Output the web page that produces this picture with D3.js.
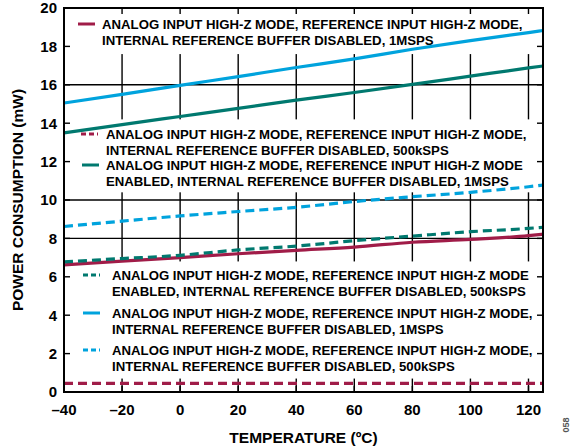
<!DOCTYPE html>
<html>
<head>
<meta charset="utf-8">
<script src="https://cdn.jsdelivr.net/npm/d3@7"></script>
<style>
  body { margin: 0; background: #fff; }
  text { font-family: "Liberation Sans", Arial, sans-serif; font-weight: bold; }
</style>
</head>
<body>
<svg id="chart"></svg>
<script>
var width = 572, height = 446
var margin = {top: 8, right: 29, bottom: 54, left: 64}

// temperatures (degC) where values were read
var temps = [-40, -20, 0, 20, 40, 60, 80, 100, 120, 125]

// power consumption (mW) per series
var refHiZ1M = [6.62, 6.82, 7.0, 7.2, 7.38, 7.55, 7.8, 7.95, 8.14, 8.22]
var refHiZ500k = [0.45, 0.45, 0.45, 0.45, 0.45, 0.45, 0.45, 0.45, 0.45, 0.45]
var refBuf1M = [13.5, 13.93, 14.35, 14.77, 15.2, 15.6, 16.02, 16.45, 16.88, 16.98]
var refBuf500k = [6.78, 6.95, 7.12, 7.4, 7.6, 7.88, 8.12, 8.35, 8.52, 8.58]
var intBuf1M = [15.05, 15.5, 15.97, 16.43, 16.9, 17.35, 17.85, 18.3, 18.72, 18.83]
var intBuf500k = [8.62, 8.9, 9.17, 9.4, 9.62, 9.92, 10.17, 10.4, 10.69, 10.78]

var xTicks = [-40, -20, 0, 20, 40, 60, 80, 100, 120]
var yTicks = [0, 2, 4, 6, 8, 10, 12, 14, 16, 18, 20]

var maroon = "#a01c48", teal = "#00796f", blue = "#00a3dd"

var series = [
    {name: ["ANALOG INPUT HIGH-Z MODE, REFERENCE INPUT HIGH-Z MODE,", "INTERNAL REFERENCE BUFFER DISABLED, 1MSPS"], values: refHiZ1M, color: maroon, dash: null},
    {name: ["ANALOG INPUT HIGH-Z MODE, REFERENCE INPUT HIGH-Z MODE,", "INTERNAL REFERENCE BUFFER DISABLED, 500kSPS"], values: refHiZ500k, color: maroon, dash: "9,5"},
    {name: ["ANALOG INPUT HIGH-Z MODE, REFERENCE INPUT HIGH-Z MODE", "ENABLED, INTERNAL REFERENCE BUFFER DISABLED, 1MSPS"], values: refBuf1M, color: teal, dash: null},
    {name: ["ANALOG INPUT HIGH-Z MODE, REFERENCE INPUT HIGH-Z MODE", "ENABLED, INTERNAL REFERENCE BUFFER DISABLED, 500kSPS"], values: refBuf500k, color: teal, dash: "9,5"},
    {name: ["ANALOG INPUT HIGH-Z MODE, REFERENCE INPUT HIGH-Z MODE,", "INTERNAL REFERENCE BUFFER DISABLED, 1MSPS"], values: intBuf1M, color: blue, dash: null},
    {name: ["ANALOG INPUT HIGH-Z MODE, REFERENCE INPUT HIGH-Z MODE,", "INTERNAL REFERENCE BUFFER DISABLED, 500kSPS"], values: intBuf500k, color: blue, dash: "9,5"}
]

// legend placement: swatch start, text start, first line y
var legendPos = [
    {sx: 78, tx: 102, y: 24},
    {sx: 81, tx: 106, y: 134},
    {sx: 82, tx: 106, y: 165},
    {sx: 83, tx: 112, y: 275},
    {sx: 83, tx: 112, y: 313},
    {sx: 83, tx: 112, y: 350}
]
// white bands that hide the grid behind the legend text (in mW)
var bands = [[20, 17.6], [14.2, 10.4], [6.8, 0.7]]

var svg = d3.select("#chart")
    .attr("width", width)
    .attr("height", height)

var x = d3.scaleLinear().domain([-40, 125]).range([margin.left, width - margin.right])
var y = d3.scaleLinear().domain([0, 20]).range([height - margin.bottom, margin.top])

var g = svg.append("g")

// grid
g.selectAll(".vgrid").data(xTicks.slice(1)).enter().append("line")
    .attr("x1", d => x(d)).attr("x2", d => x(d))
    .attr("y1", y(20)).attr("y2", y(0))
    .attr("stroke", "#000").attr("stroke-width", 1.4)
g.selectAll(".hgrid").data(yTicks.slice(1, -1)).enter().append("line")
    .attr("x1", x(-40)).attr("x2", x(125))
    .attr("y1", d => y(d)).attr("y2", d => y(d))
    .attr("stroke", "#000").attr("stroke-width", 1.4)

// blank bands
g.selectAll(".band").data(bands).enter().append("rect")
    .attr("x", x(-40)).attr("width", x(125) - x(-40))
    .attr("y", d => y(d[0])).attr("height", d => y(d[1]) - y(d[0]))
    .attr("fill", "#fff")

// inward ticks on all sides
var tl = 6
g.selectAll(".tl").data(yTicks).enter().append("line")
    .attr("x1", x(-40)).attr("x2", x(-40) + tl)
    .attr("y1", d => y(d)).attr("y2", d => y(d))
    .attr("stroke", "#000").attr("stroke-width", 1.4)
g.selectAll(".tr").data(yTicks).enter().append("line")
    .attr("x1", x(125)).attr("x2", x(125) - tl)
    .attr("y1", d => y(d)).attr("y2", d => y(d))
    .attr("stroke", "#000").attr("stroke-width", 1.4)
g.selectAll(".tt").data(xTicks).enter().append("line")
    .attr("x1", d => x(d)).attr("x2", d => x(d))
    .attr("y1", y(20)).attr("y2", y(20) + tl)
    .attr("stroke", "#000").attr("stroke-width", 1.4)
g.selectAll(".tb").data(xTicks).enter().append("line")
    .attr("x1", d => x(d)).attr("x2", d => x(d))
    .attr("y1", y(0)).attr("y2", y(0) - tl)
    .attr("stroke", "#000").attr("stroke-width", 1.4)

// data lines
var line = d3.line()
    .x((d, i) => x(temps[i]))
    .y(d => y(d))
    .curve(d3.curveMonotoneX)

g.selectAll(".series").data(series).enter().append("path")
    .attr("d", d => line(d.values))
    .attr("fill", "none")
    .attr("stroke", d => d.color)
    .attr("stroke-width", 3.2)
    .attr("stroke-dasharray", d => d.dash)

// frame
g.append("rect")
    .attr("x", x(-40)).attr("y", y(20))
    .attr("width", x(125) - x(-40)).attr("height", y(0) - y(20))
    .attr("fill", "none").attr("stroke", "#000").attr("stroke-width", 2)

// legend
var lg = g.selectAll(".legend").data(series).enter().append("g")
lg.append("line")
    .attr("x1", (d, i) => legendPos[i].sx).attr("x2", (d, i) => legendPos[i].sx + 17)
    .attr("y1", (d, i) => legendPos[i].y).attr("y2", (d, i) => legendPos[i].y)
    .attr("stroke", d => d.color).attr("stroke-width", 3)
    .attr("stroke-dasharray", d => d.dash ? "5,3" : null)
lg.each(function(d, i) {
    var p = legendPos[i]
    d3.select(this).selectAll("text").data(d.name).enter().append("text")
        .attr("x", p.tx)
        .attr("y", (t, j) => p.y + j * 16)
        .attr("dy", "0.36em")
        .attr("font-size", 13.2)
        .text(t => t)
})

// axis labels
svg.selectAll(".ylab").data(yTicks).enter().append("text")
    .attr("x", x(-40) - 7).attr("y", d => y(d))
    .attr("dy", "0.36em").attr("text-anchor", "end")
    .attr("font-size", 15)
    .text(d => d)
svg.selectAll(".xlab").data(xTicks).enter().append("text")
    .attr("x", d => x(d)).attr("y", y(0) + 18)
    .attr("dy", "0.36em").attr("text-anchor", "middle")
    .attr("font-size", 15)
    .text(d => d < 0 ? "\u2013" + Math.abs(d) : d)

svg.append("text")
    .attr("x", (x(-40) + x(125)) / 2).attr("y", 437)
    .attr("dy", "0.36em").attr("text-anchor", "middle")
    .attr("font-size", 15.5)
    .text("TEMPERATURE (\u00baC)")

svg.append("text")
    .attr("transform", "translate(17," + y(10) + ") rotate(-90)")
    .attr("dy", "0.36em").attr("text-anchor", "middle")
    .attr("font-size", 15.5)
    .text("POWER CONSUMPTION (mW)")

svg.append("text")
    .attr("transform", "translate(566,425) rotate(-90)")
    .attr("dy", "0.36em").attr("text-anchor", "middle")
    .attr("font-size", 9).attr("font-weight", "normal")
    .attr("fill", "#555")
    .text("058")
</script>
</body>
</html>
